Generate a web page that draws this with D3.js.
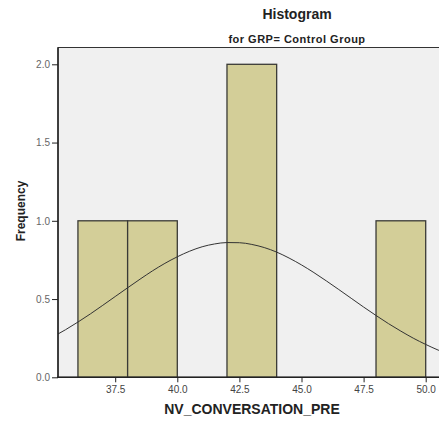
<!DOCTYPE html>
<html>
<head>
<meta charset="utf-8">
<script src="https://cdn.jsdelivr.net/npm/d3@7"></script>
<style>
  body { margin: 0; background: #fff; }
  svg { display: block; font-family: "Liberation Sans", Arial, sans-serif; }
  .tick text { fill: #444; font-size: 10px; }
  .axis-y .tick text { fill: #666; }
  .tick line, .domain { stroke: #222; }
</style>
</head>
<body>
<div id="chart"></div>
<script>
// histogram bins (lower edge, upper edge, count)
const binStarts = [36, 38, 42, 48];
const binEnds = [38, 40, 44, 50];
const binCounts = [1, 1, 2, 1];

// fitted normal curve
const curveX = [35, 35.5, 36, 36.5, 37, 37.5, 38, 38.5, 39, 39.5, 40, 40.5, 41, 41.5, 42, 42.5,
  43, 43.5, 44, 44.5, 45, 45.5, 46, 46.5, 47, 47.5, 48, 48.5, 49, 49.5, 50, 50.5, 51];
const curveY = [0.259, 0.304, 0.353, 0.405, 0.460, 0.516, 0.572, 0.627, 0.680, 0.728, 0.770, 0.806,
  0.834, 0.852, 0.861, 0.860, 0.849, 0.829, 0.800, 0.762, 0.718, 0.669, 0.616, 0.561, 0.505, 0.449,
  0.395, 0.343, 0.295, 0.250, 0.210, 0.174, 0.143];

const xTicks = [37.5, 40.0, 42.5, 45.0, 47.5, 50.0];
const yTicks = [0.0, 0.5, 1.0, 1.5, 2.0];

const W = 439, H = 426;
const plotLeft = 58, plotTop = 47.5, plotBottom = 377.3;
const svg = d3.select('#chart').append('svg').attr('width', W).attr('height', H);

// 40 -> 177.3, 50 -> 425.7
const x = d3.scaleLinear().domain([40, 50]).range([177.3, 425.7]);
const y = d3.scaleLinear().domain([0, 2]).range([plotBottom, 64.3]);

svg.append('rect')
  .attr('x', plotLeft).attr('y', plotTop)
  .attr('width', W - plotLeft + 2).attr('height', plotBottom - plotTop)
  .attr('fill', '#f0f0f0')
  .attr('stroke', '#333').attr('stroke-width', 1);

const bins = binStarts.map((s, i) => ({ x0: s, x1: binEnds[i], n: binCounts[i] }));
svg.selectAll('.bar')
  .data(bins)
  .enter()
  .append('rect')
  .attr('class', 'bar')
  .attr('x', d => x(d.x0))
  .attr('y', d => y(d.n))
  .attr('width', d => x(d.x1) - x(d.x0))
  .attr('height', d => y(0) - y(d.n))
  .attr('fill', '#d3ce98')
  .attr('stroke', '#3a3a36')
  .attr('stroke-width', 1.3);

const pts = curveX.map((v, i) => [v, curveY[i]]);
svg.append('defs').append('clipPath').attr('id', 'plot-clip')
  .append('rect').attr('x', plotLeft).attr('y', plotTop).attr('width', W - plotLeft).attr('height', plotBottom - plotTop);
svg.append('path')
  .datum(pts)
  .attr('clip-path', 'url(#plot-clip)')
  .attr('fill', 'none')
  .attr('stroke', '#333')
  .attr('stroke-width', 1)
  .attr('d', d3.line().x(d => x(d[0])).y(d => y(d[1])).curve(d3.curveMonotoneX));

const yAxis = svg.append('g')
  .attr('class', 'axis-y')
  .attr('transform', `translate(${plotLeft},0)`)
  .call(d3.axisLeft(y).tickValues(yTicks).tickFormat(d3.format('.1f')).tickSize(6).tickPadding(2));
yAxis.select('.domain').remove();

const xAxis = svg.append('g')
  .attr('class', 'axis-x')
  .attr('transform', `translate(0,${plotBottom})`)
  .call(d3.axisBottom(x).tickValues(xTicks).tickFormat(d3.format('.1f')).tickSize(5).tickPadding(4));
xAxis.select('.domain').remove();

svg.append('line')
  .attr('x1', plotLeft - 1).attr('x2', W).attr('y1', plotBottom).attr('y2', plotBottom)
  .attr('stroke', '#222').attr('stroke-width', 1.5);
svg.append('line')
  .attr('x1', plotLeft).attr('x2', plotLeft).attr('y1', plotTop).attr('y2', plotBottom)
  .attr('stroke', '#222').attr('stroke-width', 1.5);

svg.append('text')
  .attr('x', 297).attr('y', 19)
  .attr('text-anchor', 'middle')
  .attr('font-size', 14).attr('font-weight', 'bold').attr('fill', '#222')
  .text('Histogram');

svg.append('text')
  .attr('x', 297).attr('y', 43)
  .attr('text-anchor', 'middle')
  .attr('font-size', 11).attr('font-weight', 'bold').attr('fill', '#222')
  .attr('letter-spacing', 0.5)
  .text('for GRP= Control Group');

svg.append('text')
  .attr('x', 252).attr('y', 414)
  .attr('text-anchor', 'middle')
  .attr('font-size', 14).attr('font-weight', 'bold').attr('fill', '#222')
  .text('NV_CONVERSATION_PRE');

svg.append('text')
  .attr('transform', 'translate(25,211) rotate(-90)')
  .attr('text-anchor', 'middle')
  .attr('font-size', 12).attr('font-weight', 'bold').attr('fill', '#222')
  .text('Frequency');
</script>
</body>
</html>
